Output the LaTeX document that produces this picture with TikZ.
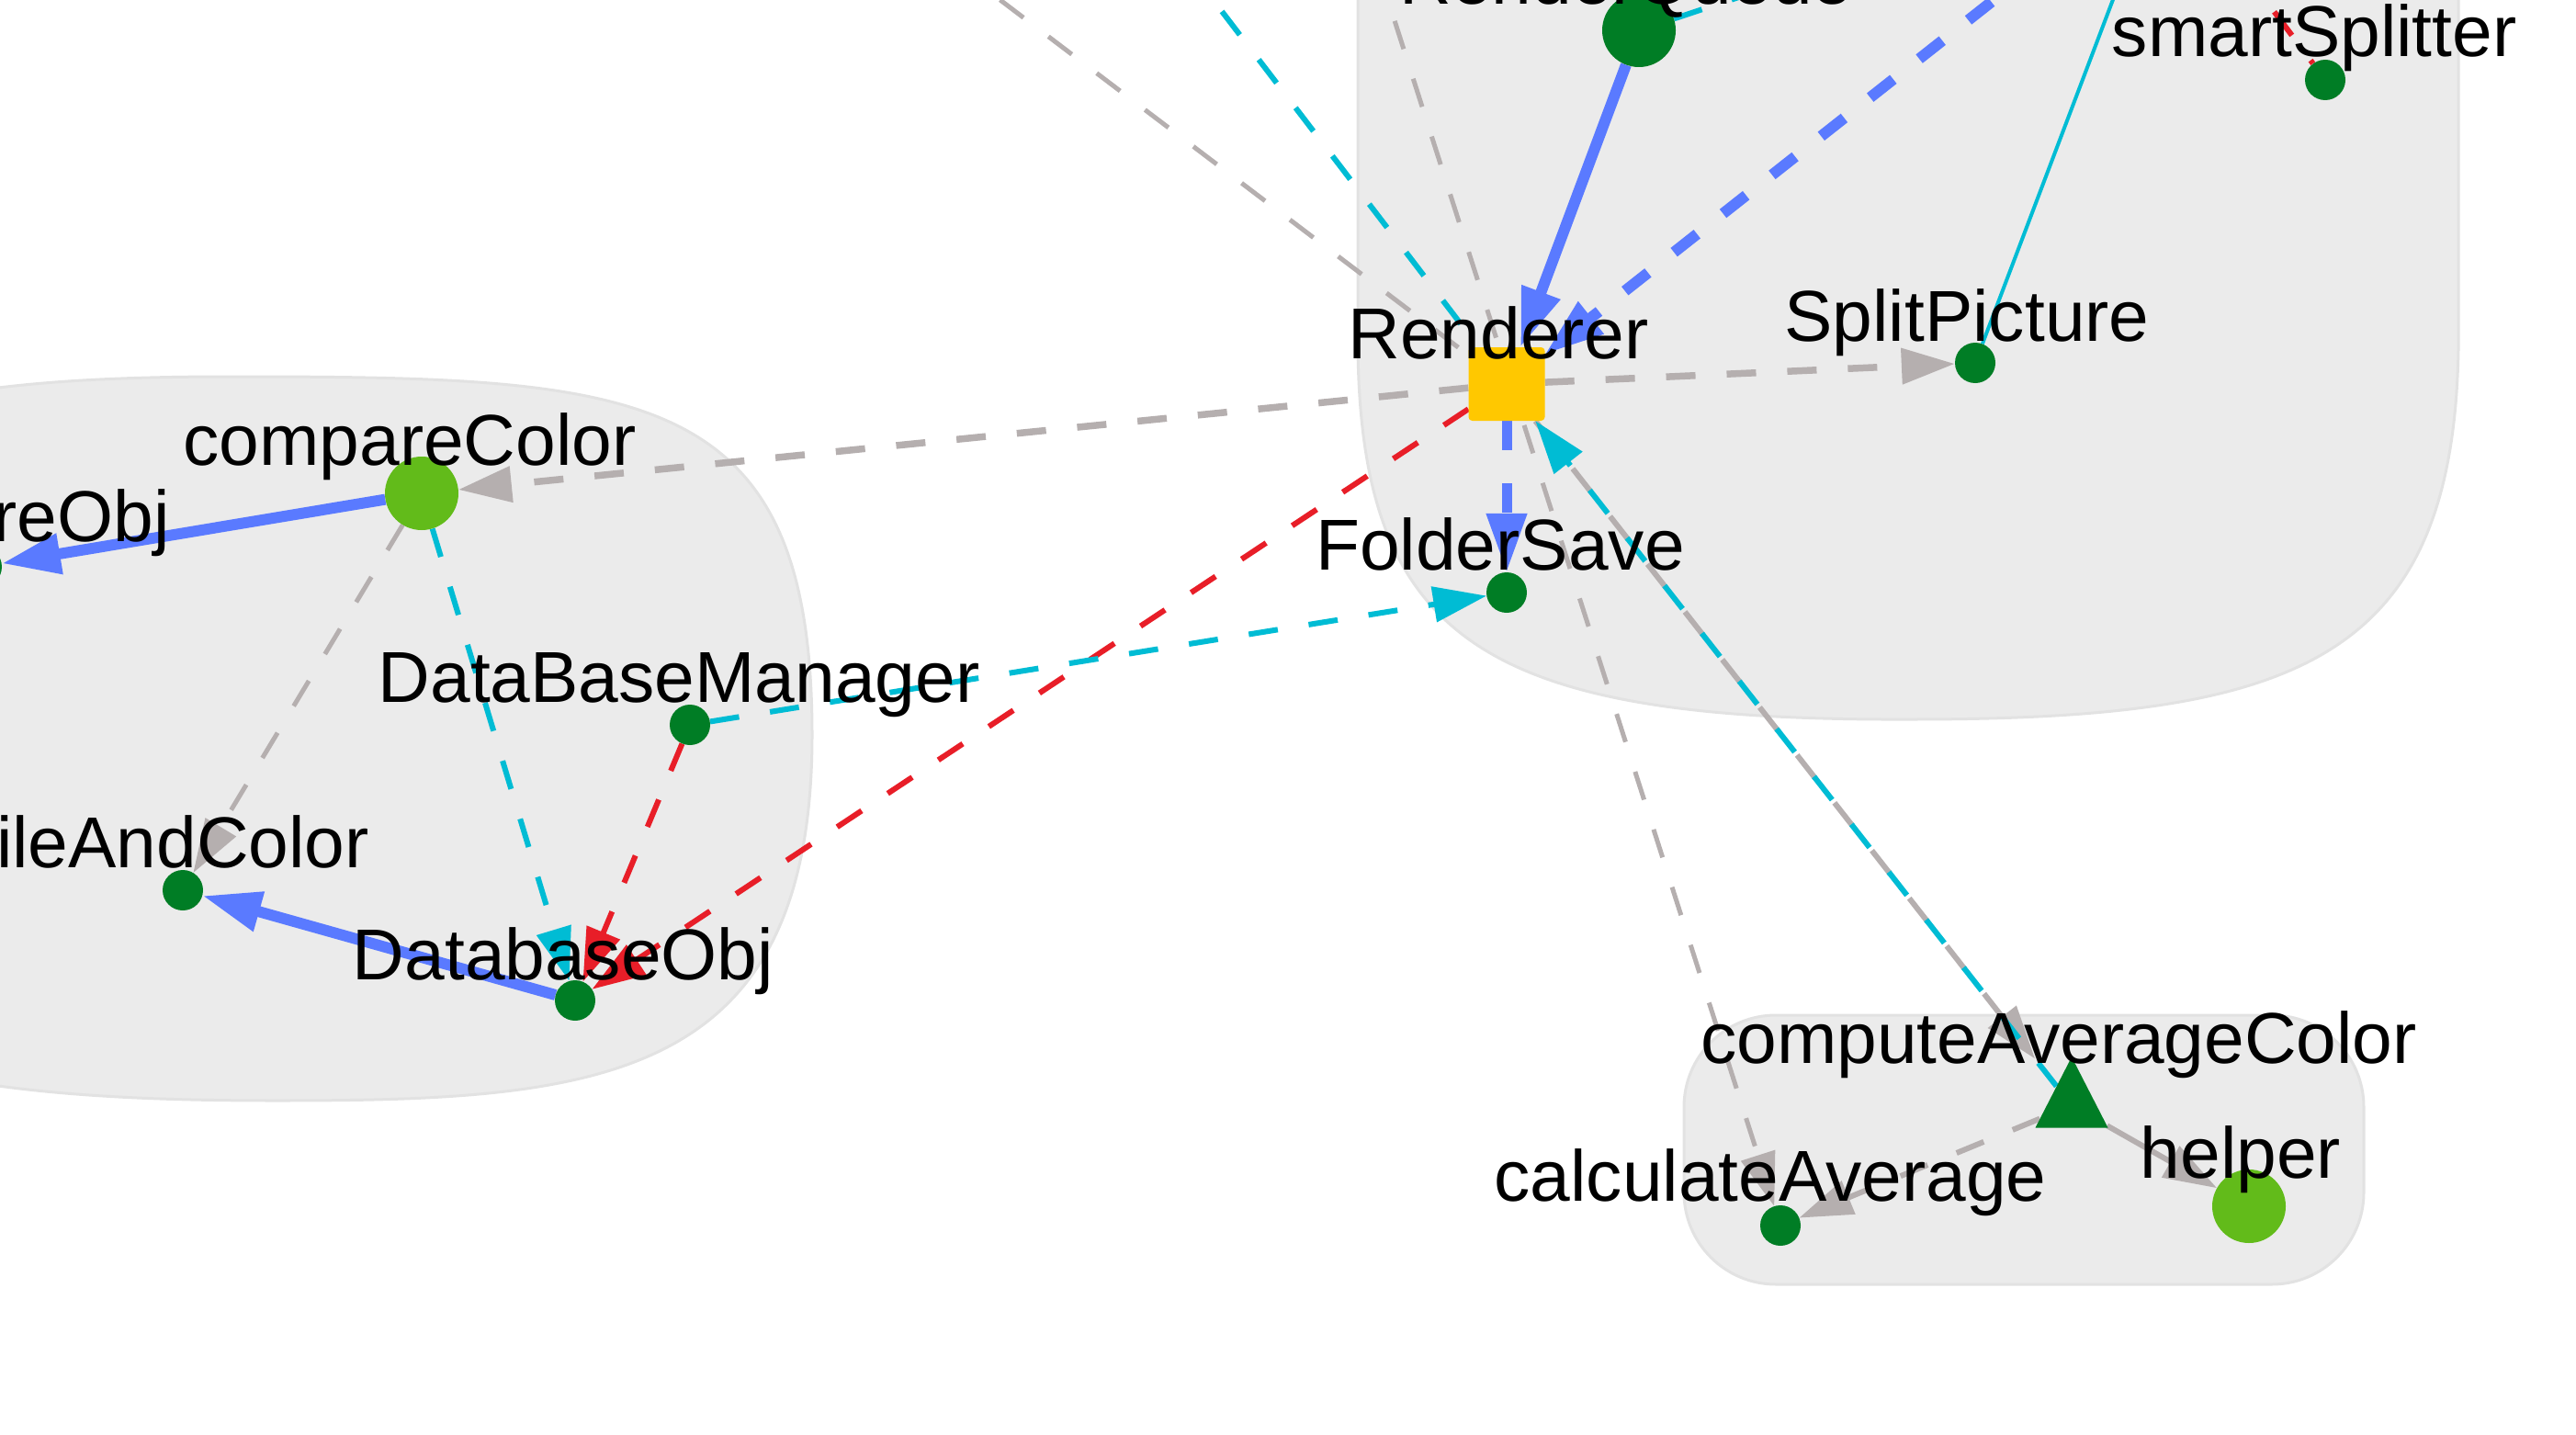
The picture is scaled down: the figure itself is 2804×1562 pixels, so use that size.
\documentclass[tikz,border=0pt]{standalone}
\usepackage{fontspec}
\setmainfont{Liberation Sans}
\usetikzlibrary{arrows.meta,shapes.geometric}
\definecolor{nodegreen}{RGB}{0,125,37}
\definecolor{limegreen}{RGB}{98,187,26}
\definecolor{gold}{RGB}{255,200,0}
\definecolor{clusterfill}{RGB}{235,235,235}
\definecolor{clusterline}{RGB}{226,226,226}
\definecolor{edgeblue}{RGB}{90,122,255}
\definecolor{edgecyan}{RGB}{0,188,212}
\definecolor{edgegray}{RGB}{181,175,175}
\definecolor{edgered}{RGB}{232,30,40}
\pgfdeclarelayer{background}
\pgfdeclarelayer{edges}
\pgfsetlayers{background,edges,main}
\begin{document}
\begin{tikzpicture}[
    x=1pt, y=-1pt,
    >={Triangle[length=58pt,width=38pt]},
    line cap=round,
    dot/.style={circle, fill=nodegreen, minimum size=44pt, inner sep=0pt},
    bigdot/.style={dot, minimum size=80pt},
    limedot/.style={dot, fill=limegreen, minimum size=80pt},
    renderbox/.style={rectangle, rounded corners=4pt, fill=gold, minimum width=83pt, minimum height=80pt, inner sep=0pt},
    tri/.style={isosceles triangle, shape border rotate=90, isosceles triangle stretches, minimum width=79pt, minimum height=77pt, inner sep=0pt, fill=nodegreen},
    lbl/.style={inner sep=0pt, anchor=base, font=\fontsize{78.5}{90}\selectfont},
    cluster/.style={fill=clusterfill, draw=clusterline, line width=3pt},
    grayedge/.style={draw=edgegray, line width=6pt, dash pattern=on 32pt off 34pt},
    cyanedge/.style={draw=edgecyan, line width=6pt, dash pattern=on 32pt off 34pt},
    rededge/.style={draw=edgered, line width=6pt, dash pattern=on 32pt off 34pt},
    blueedge/.style={draw=edgeblue, line width=12pt, >={Triangle[length=64pt,width=42pt]}},
    bluedashed/.style={blueedge, dash pattern=on 32pt off 36pt}
]
  \useasboundingbox (0,0) rectangle (2804,1562);

  % clusters
  \begin{pgfonlayer}{background}
    \path[cluster] (1478,-60) -- (1478,380) .. controls (1482,700) and (1620,785) .. (2080,783)
      .. controls (2500,783) and (2670,720) .. (2676,380) -- (2676,-60) -- cycle;
    \path[cluster] (250,410) .. controls (700,410) and (884,420) .. (884,800)
      .. controls (884,1180) and (650,1198) .. (300,1198)
      .. controls (-100,1198) and (-400,1150) .. (-400,800)
      .. controls (-400,450) and (-100,410) .. (250,410) -- cycle;
    \path[cluster, rounded corners=100pt] (1833,1105) rectangle (2573,1398);
  \end{pgfonlayer}

  % nodes
  \node[bigdot] (renderQueue) at (1784,33) {};
  \node[renderbox] (renderer) at (1640,418) {};
  \node[dot] (splitPicture) at (2150,395) {};
  \node[dot] (folderSave) at (1640,645) {};
  \node[dot] (smartSplitter) at (2531,87) {};
  \node[limedot] (compareColor) at (459,537) {};
  \node[dot] (compareObj) at (-20,617) {};
  \node[dot] (dataBaseManager) at (751,789) {};
  \node[dot] (fileAndColor) at (199,969) {};
  \node[dot] (databaseObj) at (626,1089) {};
  \node[tri, anchor=apex] (computeAverageColor) at (2255,1150) {};
  \node[dot] (calculateAverage) at (1938,1334) {};
  \node[limedot] (helper) at (2448,1313) {};

  % ends outside the picture
  \coordinate (upLeftGray) at (1036,-40);
  \coordinate (upLeftCyan) at (1290,-40);
  \coordinate (upGray) at (1498,-40);
  \coordinate (upBlue) at (2221,-40);
  \coordinate (upRightCyan) at (1950,-22);
  \coordinate (upSplit) at (2315,-40);
  \coordinate (upRed) at (2436,-40);

  % edges
  \begin{pgfonlayer}{edges}
    \draw[grayedge, line width=5pt] (upLeftGray) -- (renderer);
    \draw[cyanedge] (upLeftCyan) -- (renderer);
    \draw[grayedge, line width=5pt, ->] (upGray) -- (calculateAverage);
    \draw[cyanedge] (renderQueue) -- (upRightCyan);
    \draw[draw=edgecyan, line width=4pt] (splitPicture) -- (upSplit);
    \draw[rededge] (upRed) -- (smartSplitter);
    \draw[blueedge, ->] (renderQueue) -- (renderer);
    \draw[bluedashed, ->] (upBlue) -- (renderer);
    \draw[bluedashed, line width=11pt, ->] (renderer) -- (folderSave);
    \draw[grayedge, line width=7.5pt, ->] (renderer) -- (splitPicture);
    \draw[grayedge, line width=7.5pt, ->] (renderer) -- (compareColor);
    \draw[rededge, ->] (renderer) -- (databaseObj);
    \draw[grayedge, shorten >=38pt, ->] (renderer) -- (computeAverageColor);
    \draw[cyanedge, ->] (computeAverageColor) -- (renderer);
    \draw[cyanedge, ->] (dataBaseManager) -- (folderSave);
    \draw[rededge, ->] (dataBaseManager) -- (databaseObj);
    \draw[cyanedge, ->] (compareColor) -- (databaseObj);
    \draw[grayedge, line width=5pt, ->] (compareColor) -- (fileAndColor);
    \draw[blueedge, ->] (compareColor) -- (compareObj);
    \draw[blueedge, ->] (databaseObj) -- (fileAndColor);
    \draw[grayedge, ->] (computeAverageColor) -- (calculateAverage);
    \draw[grayedge, solid, ->] (computeAverageColor) -- (helper);
  \end{pgfonlayer}

  % labels
  \node[lbl] (lblRenderQueue) at (1770,5) {RenderQueue};
  \node[lbl] (lblRenderer) at (1631,390) {Renderer};
  \node[lbl] (lblSplitPicture) at (2141,371) {SplitPicture};
  \node[lbl] (lblFolderSave) at (1633,620) {FolderSave};
  \node[lbl] (lblSmartSplitter) at (2519,62) {smartSplitter};
  \node[lbl] (lblCompareColor) at (446,506) {compareColor};
  \node[lbl, anchor=base east] (lblCompareObj) at (185,589) {compareObj};
  \node[lbl] (lblDataBaseManager) at (739,764) {DataBaseManager};
  \node[lbl, anchor=base east] (lblFileAndColor) at (402,944) {fileAndColor};
  \node[lbl] (lblDatabaseObj) at (613,1066) {DatabaseObj};
  \node[lbl] (lblComputeAverageColor) at (2241,1157) {computeAverageColor};
  \node[lbl] (lblCalculateAverage) at (1927,1307) {calculateAverage};
  \node[lbl] (lblHelper) at (2439,1282) {helper};
\end{tikzpicture}
\end{document}
